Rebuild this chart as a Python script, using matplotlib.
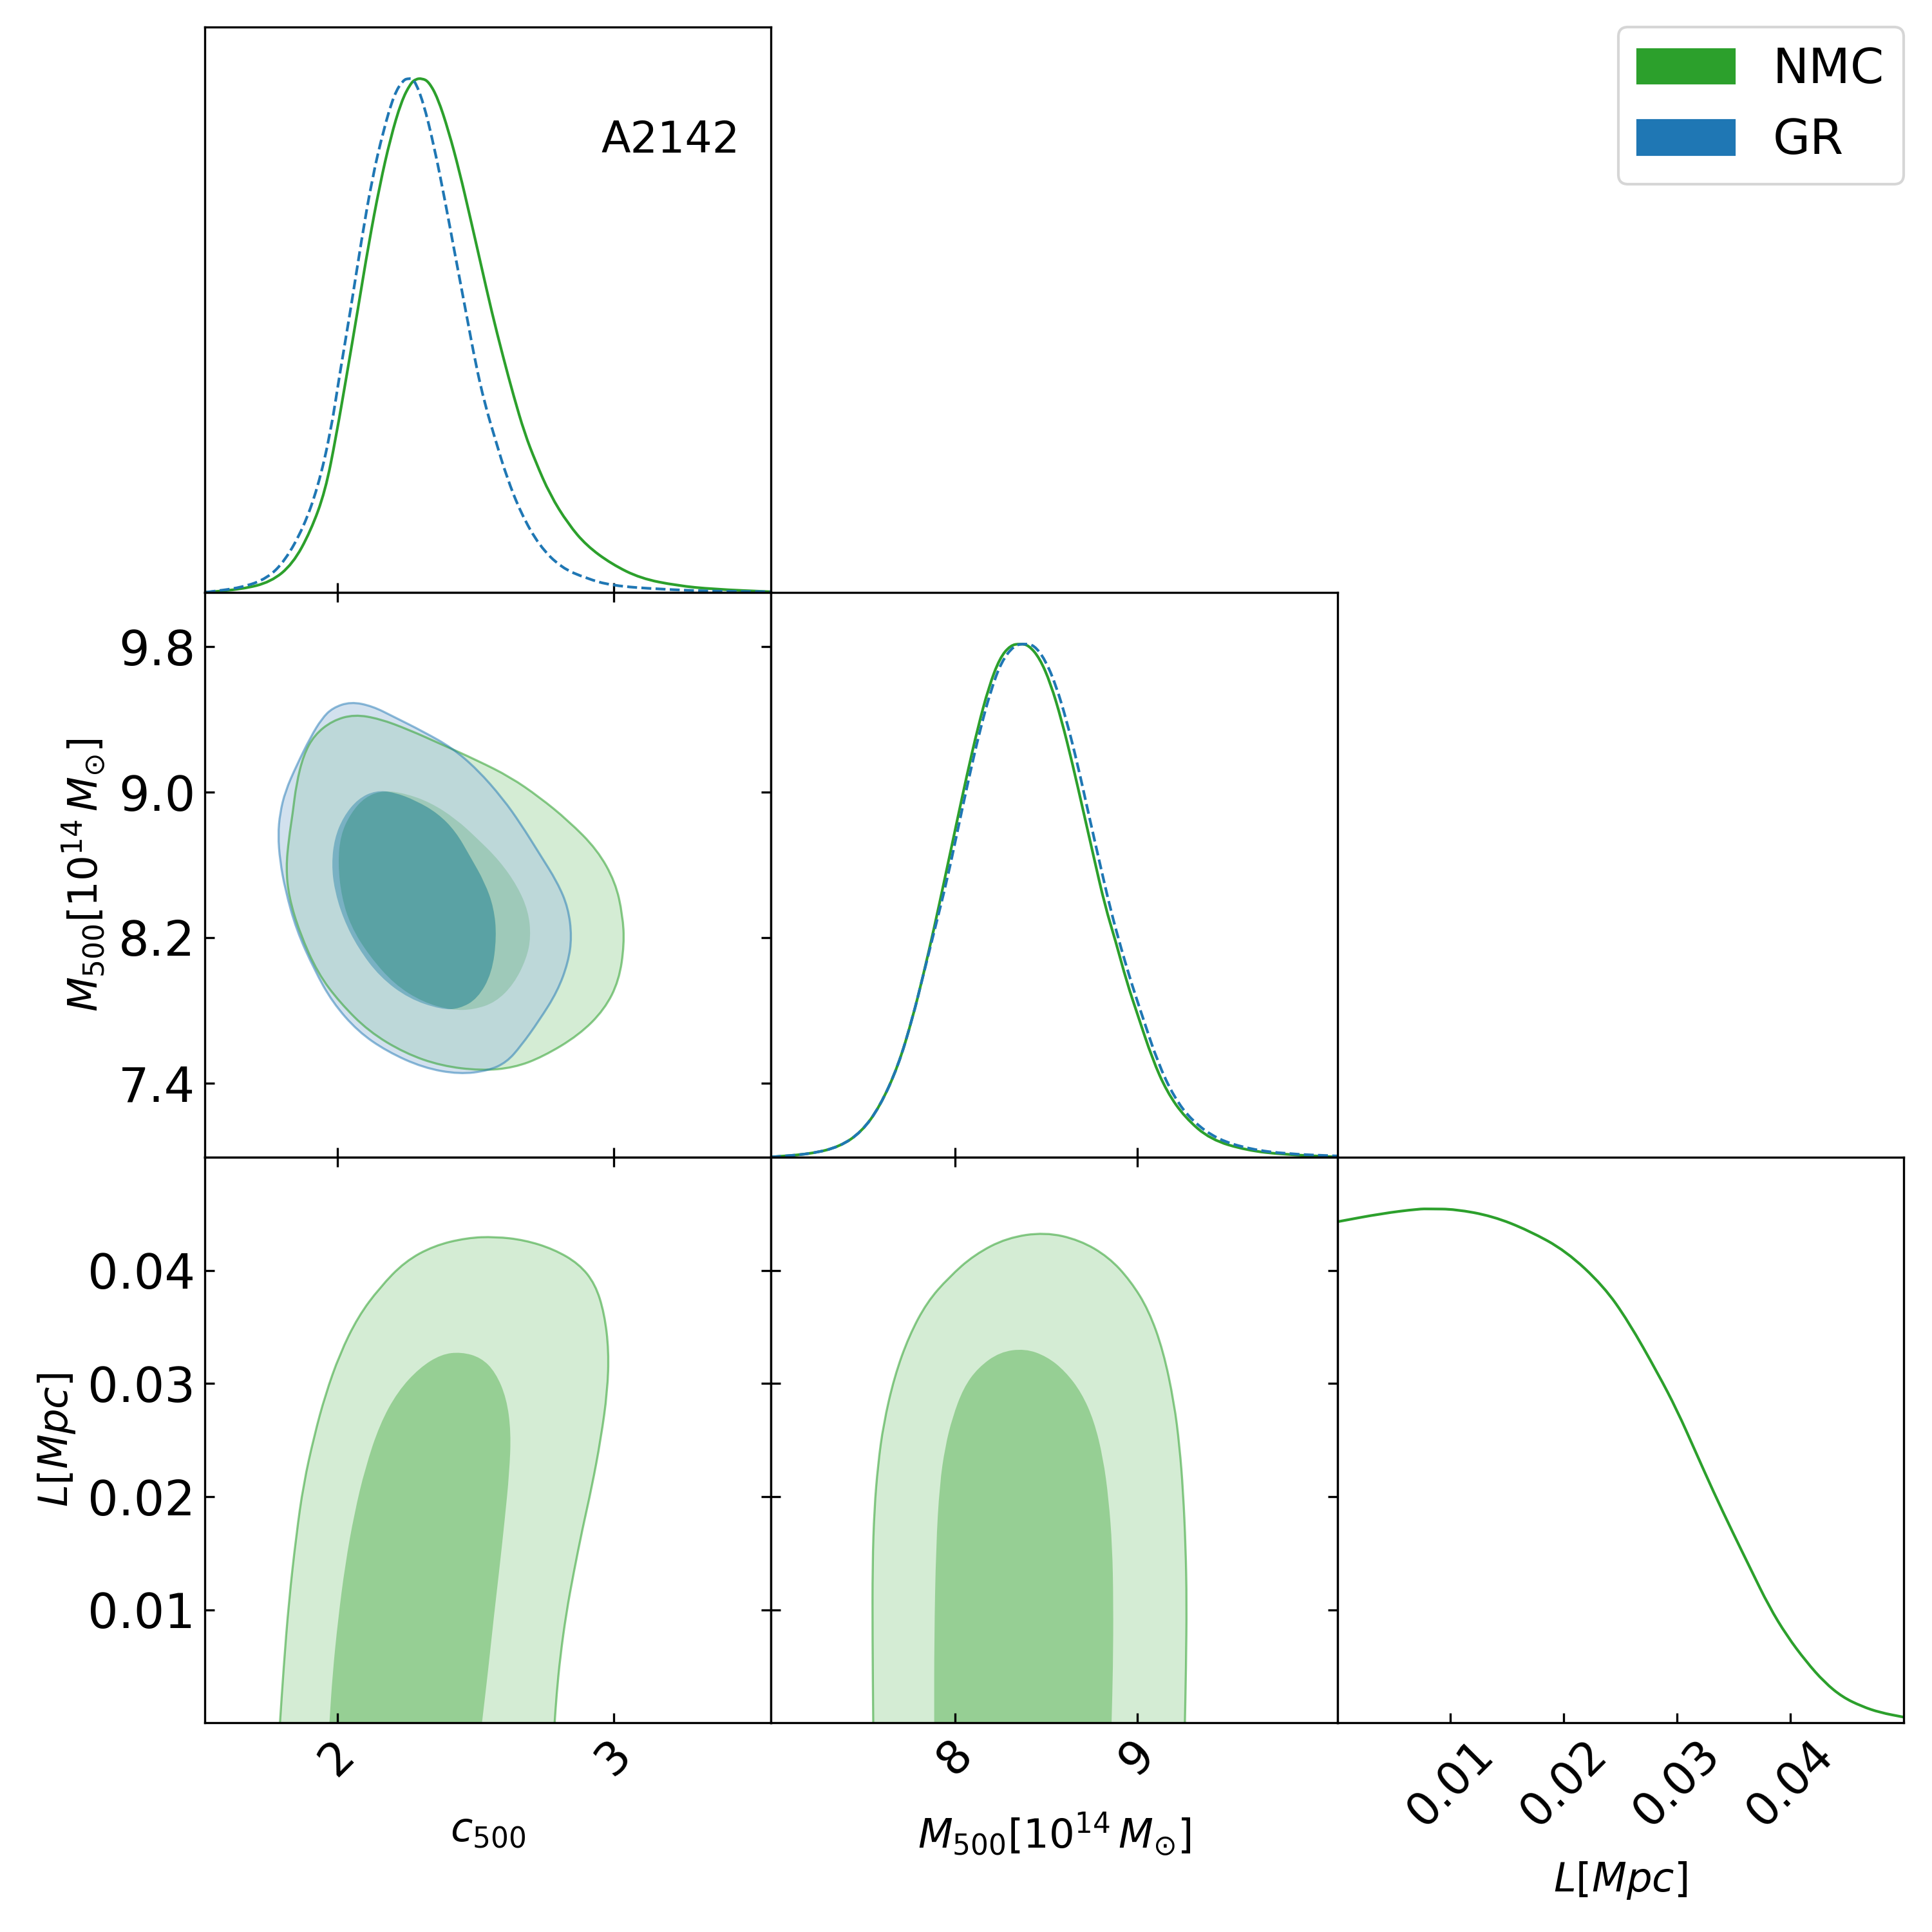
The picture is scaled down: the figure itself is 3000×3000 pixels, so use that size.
import matplotlib
matplotlib.use("Agg")
import matplotlib.pyplot as plt
from matplotlib.path import Path
from matplotlib.patches import PathPatch, Patch

# ---- 1D marginals (normalised to peak = 1) ----
c500_nmc_x = [1.524, 1.655, 1.760, 1.839, 1.904, 1.957, 1.996, 2.035, 2.075, 2.114, 2.154, 2.193,
              2.232, 2.265, 2.285, 2.307, 2.331, 2.364, 2.403, 2.442, 2.482, 2.521, 2.560, 2.600,
              2.639, 2.678, 2.718, 2.770, 2.836, 2.902, 2.993, 3.098, 3.230, 3.361, 3.571]
c500_nmc_p = [0.0, 0.006, 0.020, 0.055, 0.119, 0.197, 0.303, 0.424, 0.551, 0.678, 0.792, 0.884,
              0.955, 0.990, 0.999, 1.0, 0.994, 0.962, 0.898, 0.820, 0.728, 0.636, 0.544, 0.459,
              0.381, 0.310, 0.254, 0.190, 0.133, 0.091, 0.055, 0.027, 0.013, 0.006, 0.001]
c500_gr_x = [1.524, 1.655, 1.747, 1.812, 1.878, 1.930, 1.976, 2.009, 2.049, 2.088, 2.127, 2.167,
             2.206, 2.239, 2.259, 2.278, 2.311, 2.350, 2.390, 2.429, 2.469, 2.501, 2.534, 2.573,
             2.613, 2.665, 2.731, 2.810, 2.902, 2.993, 3.164, 3.361, 3.571]
c500_gr_p = [0.0, 0.009, 0.027, 0.062, 0.126, 0.204, 0.310, 0.424, 0.551, 0.686, 0.806, 0.898,
             0.969, 0.997, 1.0, 0.999, 0.955, 0.870, 0.763, 0.650, 0.537, 0.445, 0.367, 0.296,
             0.225, 0.154, 0.091, 0.048, 0.027, 0.013, 0.006, 0.002, 0.001]

m500_nmc_x = [6.99, 7.208, 7.367, 7.487, 7.587, 7.687, 7.766, 7.826, 7.886, 7.946, 8.006, 8.066,
              8.126, 8.186, 8.246, 8.305, 8.359, 8.405, 8.465, 8.525, 8.585, 8.645, 8.705, 8.764,
              8.824, 8.884, 8.944, 9.004, 9.084, 9.164, 9.263, 9.403, 9.603, 9.802, 10.10]
m500_nmc_p = [0.001, 0.007, 0.021, 0.050, 0.099, 0.177, 0.270, 0.355, 0.447, 0.546, 0.646, 0.745,
              0.837, 0.916, 0.972, 0.997, 1.0, 0.997, 0.972, 0.923, 0.852, 0.767, 0.674, 0.582,
              0.490, 0.419, 0.341, 0.277, 0.192, 0.128, 0.078, 0.035, 0.014, 0.006, 0.001]
m500_gr_x = [6.99, 7.208, 7.367, 7.487, 7.587, 7.687, 7.766, 7.826, 7.886, 7.956, 8.016, 8.076,
             8.136, 8.196, 8.255, 8.325, 8.385, 8.435, 8.495, 8.555, 8.615, 8.675, 8.735, 8.794,
             8.854, 8.914, 8.974, 9.034, 9.114, 9.204, 9.303, 9.443, 9.623, 9.822, 10.10]
m500_gr_p = [0.001, 0.007, 0.021, 0.050, 0.099, 0.177, 0.270, 0.355, 0.440, 0.539, 0.639, 0.738,
             0.830, 0.908, 0.965, 0.997, 1.0, 0.997, 0.969, 0.919, 0.848, 0.763, 0.667, 0.575,
             0.483, 0.405, 0.334, 0.270, 0.185, 0.117, 0.071, 0.035, 0.016, 0.007, 0.003]

L_nmc_x = [0.0, 0.0039, 0.0072, 0.0081, 0.0104, 0.0137, 0.0169, 0.0202, 0.0235, 0.0257, 0.0283,
           0.0300, 0.0316, 0.0332, 0.0349, 0.0365, 0.0381, 0.0397, 0.0414, 0.0430, 0.0446, 0.0463,
           0.0479, 0.0500]
L_nmc_p = [0.975, 0.991, 1.0, 1.0, 0.9995, 0.986, 0.958, 0.918, 0.850, 0.781, 0.680, 0.608, 0.529,
           0.450, 0.371, 0.299, 0.227, 0.169, 0.119, 0.079, 0.050, 0.032, 0.020, 0.011]

# ---- 2D contours (68% inner, 95% outer) ----
# c500 - M500
cm_nmc95_x = [2.062, 1.983, 1.917, 1.878, 1.852, 1.839, 1.825, 1.815, 1.825, 1.865, 1.930, 2.009,
              2.114, 2.245, 2.377, 2.521, 2.639, 2.744, 2.875, 2.967, 3.020, 3.039, 3.033, 3.007,
              2.941, 2.836, 2.731, 2.626, 2.508, 2.377, 2.259, 2.154]
cm_nmc95_y = [9.428, 9.394, 9.314, 9.204, 9.044, 8.884, 8.744, 8.584, 8.424, 8.224, 8.004, 7.844,
              7.684, 7.564, 7.494, 7.468, 7.484, 7.544, 7.664, 7.804, 7.964, 8.164, 8.324, 8.504,
              8.684, 8.844, 8.974, 9.084, 9.174, 9.264, 9.344, 9.404]
cm_nmc68_x = [2.167, 2.101, 2.049, 2.012, 2.003, 2.016, 2.049, 2.114, 2.206, 2.311, 2.416, 2.495,
              2.573, 2.639, 2.685, 2.701, 2.692, 2.652, 2.587, 2.508, 2.429, 2.337, 2.245]
cm_nmc68_y = [9.010, 8.974, 8.884, 8.764, 8.604, 8.424, 8.264, 8.104, 7.944, 7.844, 7.800, 7.804,
              7.844, 7.944, 8.084, 8.204, 8.344, 8.484, 8.624, 8.744, 8.854, 8.944, 8.994]
cm_gr95_x = [2.049, 1.983, 1.944, 1.904, 1.852, 1.812, 1.793, 1.786, 1.793, 1.812, 1.852, 1.917,
             1.983, 2.075, 2.180, 2.311, 2.442, 2.547, 2.613, 2.665, 2.731, 2.797, 2.836, 2.849,
             2.836, 2.797, 2.731, 2.665, 2.600, 2.508, 2.416, 2.311, 2.206, 2.127]
cm_gr95_y = [9.498, 9.464, 9.404, 9.304, 9.144, 9.004, 8.884, 8.764, 8.624, 8.464, 8.244, 8.024,
             7.844, 7.684, 7.574, 7.484, 7.448, 7.468, 7.514, 7.604, 7.744, 7.904, 8.064, 8.204,
             8.364, 8.504, 8.664, 8.824, 8.964, 9.124, 9.244, 9.334, 9.414, 9.474]
cm_gr68_x = [2.140, 2.075, 2.022, 1.990, 1.980, 1.990, 2.022, 2.075, 2.154, 2.259, 2.377, 2.442,
             2.508, 2.560, 2.577, 2.567, 2.534, 2.482, 2.429, 2.364, 2.285, 2.206]
cm_gr68_y = [9.010, 8.964, 8.864, 8.744, 8.604, 8.464, 8.304, 8.144, 7.984, 7.864, 7.804, 7.808,
             7.864, 8.004, 8.204, 8.364, 8.504, 8.644, 8.784, 8.884, 8.954, 9.000]

# c500 - L (NMC only, open at L = 0)
cl_nmc95_x = [1.793, 1.806, 1.825, 1.852, 1.878, 1.917, 1.957, 2.009, 2.075, 2.154, 2.245, 2.350,
              2.469, 2.573, 2.678, 2.783, 2.875, 2.934, 2.967, 2.983, 2.978, 2.954, 2.921, 2.888,
              2.856, 2.829, 2.807, 2.794, 2.787]
cl_nmc95_y = [0.0, 0.0048, 0.0107, 0.0166, 0.0211, 0.0254, 0.0290, 0.0326, 0.0359, 0.0385, 0.0408,
              0.0422, 0.0429, 0.0430, 0.0427, 0.0419, 0.0406, 0.0388, 0.0362, 0.0329, 0.0293, 0.0251,
              0.0208, 0.0172, 0.0133, 0.0097, 0.0058, 0.0025, 0.0]
cl_nmc68_x = [1.972, 1.983, 2.003, 2.029, 2.062, 2.101, 2.154, 2.219, 2.298, 2.377, 2.449, 2.521,
              2.573, 2.613, 2.629, 2.623, 2.606, 2.587, 2.567, 2.547, 2.524]
cl_nmc68_y = [0.0, 0.0042, 0.0091, 0.0140, 0.0185, 0.0225, 0.0264, 0.0293, 0.0314, 0.0326, 0.0328,
              0.0323, 0.0310, 0.0287, 0.0257, 0.0221, 0.0179, 0.0136, 0.0094, 0.0048, 0.0]

# M500 - L (NMC only, open at L = 0)
ml_nmc95_x = [7.551, 7.547, 7.547, 7.557, 7.577, 7.607, 7.667, 7.747, 7.846, 7.966, 8.106, 8.285,
              8.495, 8.685, 8.844, 8.964, 9.064, 9.144, 9.204, 9.234, 9.253, 9.267, 9.273, 9.269,
              9.263]
ml_nmc95_y = [0.0, 0.0074, 0.0140, 0.0189, 0.0228, 0.0264, 0.0306, 0.0342, 0.0372, 0.0394, 0.0414,
              0.0429, 0.0434, 0.0427, 0.0412, 0.0391, 0.0365, 0.0329, 0.0283, 0.0244, 0.0205,
              0.0156, 0.0107, 0.0048, 0.0]
ml_nmc68_x = [7.886, 7.886, 7.896, 7.916, 7.946, 7.986, 8.046, 8.126, 8.246, 8.385, 8.505, 8.605,
              8.695, 8.764, 8.814, 8.844, 8.864, 8.870, 8.868, 8.860]
ml_nmc68_y = [0.0, 0.0074, 0.0156, 0.0211, 0.0244, 0.0270, 0.0296, 0.0314, 0.0328, 0.0331, 0.0324,
              0.0311, 0.0292, 0.0267, 0.0234, 0.0198, 0.0156, 0.0107, 0.0048, 0.0]

c500_lim = (1.521, 3.570)
m500_lim = (6.99, 10.10)
L_lim = (0.0, 0.050)

green = '#2ca02c'
blue = '#1f77b4'
nmc_light, nmc_dark = '#d4ecd4', '#96cf94'
gr_light, gr_dark = '#a7c5df', '#1f77b4'


def mid(a, b):
    return ((a[0] + b[0]) / 2, (a[1] + b[1]) / 2)


def smooth(xs, ys, closed=False):
    # quadratic bezier through the read points (drawn by matplotlib's Path)
    pts = list(zip(xs, ys))
    n = len(pts)
    if closed:
        verts = [mid(pts[-1], pts[0])]
        codes = [Path.MOVETO]
        for i in range(n):
            verts += [pts[i], mid(pts[i], pts[(i + 1) % n])]
            codes += [Path.CURVE3, Path.CURVE3]
        verts.append(verts[0])
        codes.append(Path.CLOSEPOLY)
    else:
        verts = [pts[0], mid(pts[0], pts[1])]
        codes = [Path.MOVETO, Path.LINETO]
        for i in range(1, n - 1):
            verts += [pts[i], mid(pts[i], pts[i + 1])]
            codes += [Path.CURVE3, Path.CURVE3]
        verts.append(pts[-1])
        codes.append(Path.LINETO)
    return verts, codes


def region(xs, ys, closed=True, hole=None):
    verts, codes = smooth(xs, ys, closed)
    if not closed:
        verts = verts + [verts[0]]
        codes = codes + [Path.CLOSEPOLY]
    if hole is not None:
        hv, hc = smooth(hole[0][::-1], hole[1][::-1], True)
        verts += hv
        codes += hc
    return Path(verts, codes)


def fill(ax, xs, ys, color, alpha=1.0, closed=True, hole=None):
    ax.add_patch(PathPatch(region(xs, ys, closed, hole), facecolor=color, edgecolor='none',
                           alpha=alpha, zorder=1))


def line(ax, xs, ys, color, closed=False, **kw):
    verts, codes = smooth(xs, ys, closed)
    ax.add_patch(PathPatch(Path(verts, codes), fill=False, edgecolor=color,
                           capstyle='butt', zorder=2, **kw))


plt.rcParams['font.family'] = ['DejaVu Sans']
plt.rcParams['mathtext.fontset'] = 'dejavusans'

fig, axes = plt.subplots(3, 3, figsize=(10, 10), dpi=300)
fig.subplots_adjust(left=0.106, right=0.9853, bottom=0.1083, top=0.986, wspace=0, hspace=0)
for ax in [axes[0, 1], axes[0, 2], axes[1, 2]]:
    ax.set_visible(False)

# 1D panels
ax = axes[0, 0]
line(ax, c500_nmc_x, c500_nmc_p, green, lw=1.0)
line(ax, c500_gr_x, c500_gr_p, blue, lw=1.0, linestyle='--')
ax.set_xlim(*c500_lim)
ax.text(0.945, 0.80, 'A2142', transform=ax.transAxes, ha='right', va='center', fontsize=16)

ax = axes[1, 1]
line(ax, m500_nmc_x, m500_nmc_p, green, lw=1.0)
line(ax, m500_gr_x, m500_gr_p, blue, lw=1.0, linestyle='--')
ax.set_xlim(*m500_lim)

ax = axes[2, 2]
line(ax, L_nmc_x, L_nmc_p, green, lw=1.0)
ax.set_xlim(*L_lim)

for ax in [axes[0, 0], axes[1, 1], axes[2, 2]]:
    ax.set_ylim(0, 1.1)
    ax.tick_params(left=False, labelleft=False, direction='in')

# 2D panels
ax = axes[1, 0]
fill(ax, cm_nmc95_x, cm_nmc95_y, nmc_light)
fill(ax, cm_nmc68_x, cm_nmc68_y, nmc_dark)
fill(ax, cm_gr95_x, cm_gr95_y, gr_light, alpha=0.5, hole=(cm_gr68_x, cm_gr68_y))
fill(ax, cm_gr68_x, cm_gr68_y, gr_dark, alpha=0.5)
line(ax, cm_nmc95_x, cm_nmc95_y, green, closed=True, alpha=0.55, lw=0.8)
line(ax, cm_gr95_x, cm_gr95_y, blue, closed=True, alpha=0.5, lw=0.8)
ax.set_xlim(*c500_lim)
ax.set_ylim(*m500_lim)

ax = axes[2, 0]
fill(ax, cl_nmc95_x, cl_nmc95_y, nmc_light, closed=False)
fill(ax, cl_nmc68_x, cl_nmc68_y, nmc_dark, closed=False)
line(ax, cl_nmc95_x, cl_nmc95_y, green, alpha=0.55, lw=0.8)
ax.set_xlim(*c500_lim)
ax.set_ylim(*L_lim)

ax = axes[2, 1]
fill(ax, ml_nmc95_x, ml_nmc95_y, nmc_light, closed=False)
fill(ax, ml_nmc68_x, ml_nmc68_y, nmc_dark, closed=False)
line(ax, ml_nmc95_x, ml_nmc95_y, green, alpha=0.55, lw=0.8)
ax.set_xlim(*m500_lim)
ax.set_ylim(*L_lim)

for ax in [axes[1, 0], axes[2, 0], axes[2, 1]]:
    ax.tick_params(direction='in', top=True, right=True)

# ticks
c500_ticks = [2, 3]
m500_yticks = [7.4, 8.2, 9.0, 9.8]
m500_xticks = [8, 9]
L_ticks = [0.01, 0.02, 0.03, 0.04]

for ax in [axes[0, 0], axes[1, 0], axes[2, 0]]:
    ax.set_xticks(c500_ticks)
for ax in [axes[1, 1], axes[2, 1]]:
    ax.set_xticks(m500_xticks)
axes[2, 2].set_xticks(L_ticks)
axes[1, 0].set_yticks(m500_yticks)
axes[2, 0].set_yticks(L_ticks)
axes[2, 1].set_yticks(L_ticks)

for ax in axes[:2].ravel():
    ax.tick_params(labelbottom=False)
for ax in [axes[1, 1], axes[2, 1], axes[2, 2]]:
    ax.tick_params(labelleft=False)

axes[1, 0].set_yticklabels(['7.4', '8.2', '9.0', '9.8'])
axes[2, 0].set_yticklabels(['0.01', '0.02', '0.03', '0.04'])
axes[2, 0].set_xticklabels(['2', '3'])
axes[2, 1].set_xticklabels(['8', '9'])
axes[2, 2].set_xticklabels(['0.01', '0.02', '0.03', '0.04'])

for ax in axes[2]:
    ax.tick_params(axis='x', labelsize=17, labelrotation=45)
for ax in [axes[1, 0], axes[2, 0]]:
    ax.tick_params(axis='y', labelsize=18)

axes[2, 0].set_xlabel(r'$c_{500}$', fontsize=15, labelpad=10)
axes[2, 1].set_xlabel(r'$M_{500}[10^{14}\,M_{\odot}]$', fontsize=15, labelpad=10)
axes[2, 2].set_xlabel(r'$L[Mpc]$', fontsize=15, labelpad=9)
axes[1, 0].set_ylabel(r'$M_{500}[10^{14}\,M_{\odot}]$', fontsize=15)
axes[2, 0].set_ylabel(r'$L[Mpc]$', fontsize=15)

handles = [Patch(color=green, label='NMC'), Patch(color=blue, label='GR')]
fig.legend(handles=handles, loc='upper right', bbox_to_anchor=(0.9853, 0.986),
           borderaxespad=0, fontsize=18)

fig.savefig('out.png', dpi=300)
